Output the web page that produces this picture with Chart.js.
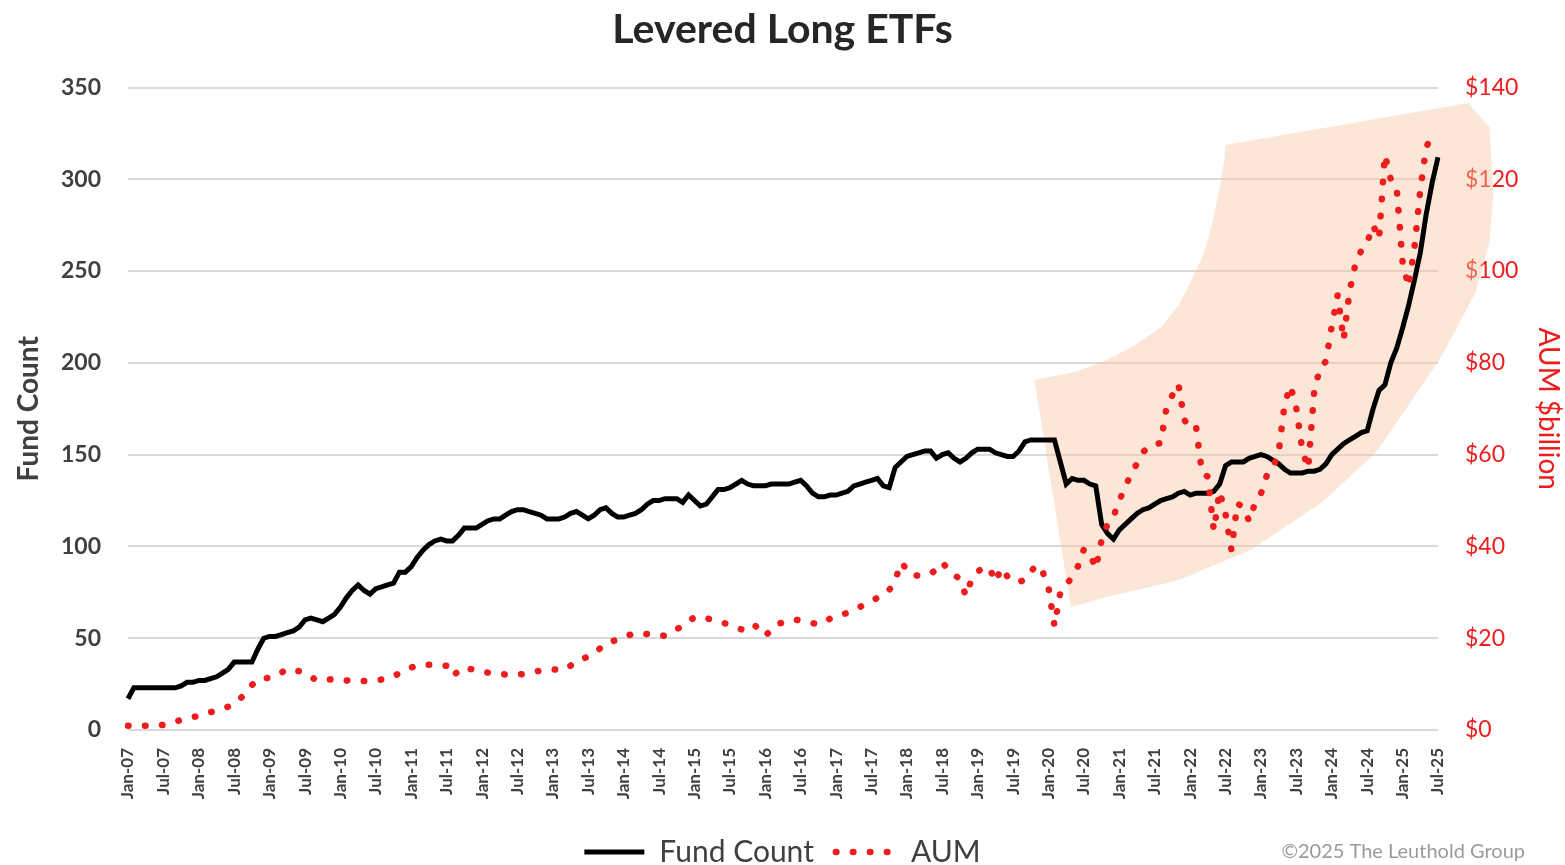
<!DOCTYPE html>
<html>
<head>
<meta charset="utf-8">
<title>Levered Long ETFs</title>
<script src="https://cdn.jsdelivr.net/npm/chart.js@4.4.1/dist/chart.umd.min.js"></script>
<style>
  html, body { margin: 0; padding: 0; background: #ffffff; }
  #wrap { width: 1565px; height: 865px; }
</style>
</head>
<body>
<div id="wrap"><canvas id="chart" width="1565" height="865"></canvas></div>
<script>
// monthly categories, Jan-07 .. Jul-25
const monthNames = ['Jan', 'Feb', 'Mar', 'Apr', 'May', 'Jun', 'Jul', 'Aug', 'Sep', 'Oct', 'Nov', 'Dec'];
const firstYear = 2007;
const lastYear = 2025;
const lastMonthOfLastYear = 7;

// number of levered long funds (left axis)
const fundCount = [
    17, 23, 23, 23, 23, 23, 23, 23, 23, 24, 26, 26,            // 2007
    27, 27, 28, 29, 31, 33, 37, 37, 37, 37, 44, 50,            // 2008
    51, 51, 52, 53, 54, 56, 60, 61, 60, 59, 61, 63,            // 2009
    67, 72, 76, 79, 76, 74, 77, 78, 79, 80, 86, 86,            // 2010
    89, 94, 98, 101, 103, 104, 103, 103, 106, 110, 110, 110,   // 2011
    112, 114, 115, 115, 117, 119, 120, 120, 119, 118, 117, 115,// 2012
    115, 115, 116, 118, 119, 117, 115, 117, 120, 121, 118, 116,// 2013
    116, 117, 118, 120, 123, 125, 125, 126, 126, 126, 124, 128,// 2014
    125, 122, 123, 127, 131, 131, 132, 134, 136, 134, 133, 133,// 2015
    133, 134, 134, 134, 134, 135, 136, 133, 129, 127, 127, 128,// 2016
    128, 129, 130, 133, 134, 135, 136, 137, 133, 132, 143, 146,// 2017
    149, 150, 151, 152, 152, 148, 150, 151, 148, 146, 148, 151,// 2018
    153, 153, 153, 151, 150, 149, 149, 152, 157, 158, 158, 158,// 2019
    158, 158, 146, 134, 137, 136, 136, 134, 133, 112, 107, 104,// 2020
    109, 112, 115, 118, 120, 121, 123, 125, 126, 127, 129, 130,// 2021
    128, 129, 129, 129, 130, 134, 144, 146, 146, 146, 148, 149,// 2022
    150, 149, 147, 145, 142, 140, 140, 140, 141, 141, 142, 145,// 2023
    150, 153, 156, 158, 160, 162, 163, 175, 185, 188, 200, 208,// 2024
    219, 231, 245, 260, 281, 298, 312                          // 2025
];

// assets under management, $ billion (right axis)
const aum = [
    0.9, 0.9, 0.9, 0.9, 1.0, 1.0, 1.1, 1.4, 1.8, 2.2, 2.5, 2.8,            // 2007
    3.1, 3.5, 3.9, 4.2, 4.6, 5.1, 5.6, 6.8, 8.1, 9.8, 11.1, 11.2,          // 2008
    11.4, 11.7, 12.5, 13.3, 13.1, 12.8, 12.4, 11.6, 10.8, 10.9, 11.0, 11.1,// 2009
    10.9, 10.8, 10.7, 10.7, 10.7, 10.7, 10.8, 11.0, 11.2, 11.7, 12.4, 13.0,// 2010
    13.6, 14.1, 14.2, 14.2, 14.2, 14.1, 14.0, 11.8, 12.8, 13.7, 13.3, 13.0,// 2011
    12.7, 12.5, 12.3, 12.2, 12.1, 12.0, 12.1, 12.2, 12.4, 12.7, 13.0, 13.2,// 2012
    13.2, 13.1, 13.1, 14.0, 15.0, 15.5, 16.0, 16.6, 17.8, 19.0, 19.3, 19.7,// 2013
    20.2, 20.7, 21.1, 21.0, 20.9, 20.9, 20.7, 20.5, 21.2, 22.0, 22.6, 23.6,// 2014
    24.6, 24.5, 24.3, 24.1, 23.7, 23.3, 22.9, 22.4, 21.9, 22.5, 23.1, 21.8,// 2015
    20.5, 21.8, 23.1, 23.4, 23.8, 24.1, 23.8, 23.6, 23.3, 23.0, 23.5, 24.3,// 2016
    24.6, 25.1, 25.6, 26.2, 26.8, 27.5, 28.1, 28.8, 29.5, 30.5, 32.5, 36.5,// 2017
    35.0, 33.6, 33.7, 33.9, 34.0, 35.0, 36.5, 35.0, 33.9, 32.8, 29.2, 33.0,// 2018
    34.5, 35.5, 35.3, 32.3, 35.3, 33.5, 32.3, 32.3, 32.7, 34.5, 36.0, 34.5,// 2019
    31.0, 22.7, 30.0, 31.5, 33.5, 35.7, 39.4, 38.5, 35.2, 41.4, 44.9, 46.5,// 2020
    50.0, 53.0, 55.8, 58.1, 60.5, 61.8, 62.3, 62.5, 70.3, 73.0, 75.4, 67.6,// 2021
    65.7, 66.1, 56.0, 55.2, 43.5, 52.0, 47.0, 39.2, 49.4, 48.5, 45.5, 49.5,// 2022
    51.5, 55.5, 57.0, 60.5, 71.0, 75.0, 70.0, 61.0, 57.0, 73.5, 79.0, 80.3,// 2023
    88.0, 94.8, 85.0, 95.5, 101.5, 104.5, 106.2, 110.0, 107.0, 125.3, 120.0, 118.0, // 2024
    102.0, 96.6, 105.0, 117.7, 127.0, 129.5, null                          // 2025
];

const leftTickStep = 50;
const leftMax = 350;
const rightTickStep = 20;
const rightMax = 140;

// highlighted fan, outline given as (month index, fund count) pairs
const fanIndex = [153.6, 160.5, 165.9, 170.7, 175.1, 178.3, 180.5, 182.4, 183.6, 184.6, 185.3, 185.8, 186.0,
                  227.1, 230.7, 231.4, 230.7, 228.3, 225.3, 222.2, 216.8, 211.4, 202.2, 190.2, 178.1, 165.9, 159.8];
const fanValue = [190.7, 195.0, 201.6, 209.7, 219.5, 232.6, 246.8, 260.4, 274.0, 288.7, 301.2, 310.5, 318.7,
                  341.6, 328.5, 292.5, 265.3, 238.1, 219.5, 201.6, 176.0, 150.9, 123.7, 98.1, 81.7, 72.5, 67.0];

const labels = [];
for (let y = firstYear; y <= lastYear; y++) {
    const nMonths = y === lastYear ? lastMonthOfLastYear : 12;
    for (let m = 0; m < nMonths; m++) {
        labels.push(monthNames[m] + '-' + String(y).slice(2));
    }
}

const textGrey = '#404040';
const red = '#ee1c1c';

const fanPlugin = {
    id: 'fan',
    beforeDatasetsDraw(chart) {
        const ctx = chart.ctx;
        const x = chart.scales.x;
        const y = chart.scales.y;
        ctx.save();
        ctx.beginPath();
        fanIndex.forEach((idx, i) => {
            const px = x.getPixelForValue(idx);
            const py = y.getPixelForValue(fanValue[i]);
            if (i === 0) ctx.moveTo(px, py); else ctx.lineTo(px, py);
        });
        ctx.closePath();
        ctx.fillStyle = 'rgba(247, 196, 160, 0.42)';
        ctx.fill();
        ctx.restore();
    }
};

// push the legend row a little lower, closer to the bottom edge
const legendShift = {
    id: 'legendShift',
    afterLayout(chart) {
        chart.legend.top += 12;
        chart.legend.bottom += 12;
    }
};

const creditPlugin = {
    id: 'credit',
    afterDraw(chart) {
        const ctx = chart.ctx;
        ctx.save();
        ctx.font = '20px Lato';
        ctx.fillStyle = '#9a9a9a';
        ctx.textAlign = 'right';
        ctx.textBaseline = 'middle';
        ctx.fillText('\u00a92025 The Leuthold Group', 1525, 852);
        ctx.restore();
    }
};

const chart = new Chart(document.getElementById('chart'), {
    type: 'line',
    data: {
        labels: labels,
        datasets: [{
            label: 'Fund Count',
            data: fundCount,
            yAxisID: 'y',
            borderColor: '#000000',
            backgroundColor: '#000000',
            borderWidth: 5,
            pointRadius: 0,
            pointStyle: 'line',
            tension: 0,
            order: 1
        }, {
            label: 'AUM',
            data: aum,
            yAxisID: 'y1',
            borderColor: red,
            backgroundColor: red,
            borderWidth: 6.5,
            borderDash: [0.5, 16.5],
            borderCapStyle: 'round',
            pointRadius: 0,
            pointStyle: 'line',
            tension: 0,
            order: 0
        }]
    },
    options: {
        responsive: false,
        animation: false,
        devicePixelRatio: 1,
        layout: { padding: 0 },
        plugins: {
            title: {
                display: true,
                text: 'Levered Long ETFs',
                color: '#262626',
                font: { family: 'Lato', size: 41, weight: 'bold' },
                padding: { top: 5, bottom: 33.3 }
            },
            legend: {
                display: true,
                position: 'bottom',
                labels: {
                    usePointStyle: true,
                    pointStyleWidth: 60,
                    color: textGrey,
                    font: { family: 'Lato', size: 30 },
                    padding: 22,
                    sort: (a, b) => a.datasetIndex - b.datasetIndex,
                    generateLabels: (c) => {
                        const items = Chart.defaults.plugins.legend.labels.generateLabels(c);
                        items.forEach((it) => {
                            const ds = c.data.datasets[it.datasetIndex];
                            it.lineDash = ds.borderDash || [];
                            it.lineCap = ds.borderCapStyle || 'butt';
                            it.lineWidth = ds.borderWidth;
                            it.strokeStyle = ds.borderColor;
                        });
                        return items;
                    }
                }
            },
            tooltip: { enabled: false }
        },
        scales: {
            x: {
                type: 'category',
                offset: false,
                grid: { display: false },
                border: { display: false },
                ticks: {
                    autoSkip: false,
                    minRotation: 90,
                    maxRotation: 90,
                    padding: 10,
                    color: textGrey,
                    font: { family: 'Lato', size: 17, weight: 'bold' },
                    callback: (v, i) => (i % 6 === 0 ? labels[i] : '')
                },
                afterFit: (s) => { s.height = 73; }
            },
            y: {
                position: 'left',
                min: 0,
                max: leftMax,
                grid: { color: '#d9d9d9', lineWidth: 2, drawTicks: false },
                border: { display: false },
                ticks: {
                    stepSize: leftTickStep,
                    padding: 27,
                    color: textGrey,
                    font: { family: 'Lato', size: 23, weight: 'bold' }
                },
                title: {
                    display: true,
                    text: 'Fund Count',
                    color: textGrey,
                    font: { family: 'Lato', size: 28, weight: 'bold' },
                    padding: { top: 12, bottom: 0 }
                },
                afterFit: (s) => { s.width = 128; }
            },
            y1: {
                position: 'right',
                min: 0,
                max: rightMax,
                grid: { drawOnChartArea: false, drawTicks: false },
                border: { display: false },
                ticks: {
                    stepSize: rightTickStep,
                    padding: 27,
                    color: red,
                    font: { family: 'Lato', size: 23 },
                    callback: (v) => '$' + v
                },
                title: {
                    display: true,
                    text: 'AUM $billion',
                    color: red,
                    font: { family: 'Lato', size: 28 },
                    padding: { top: 0, bottom: 0 }
                },
                afterFit: (s) => { s.width = 127; }
            }
        }
    },
    plugins: [fanPlugin, legendShift, creditPlugin]
});
</script>
</body>
</html>
